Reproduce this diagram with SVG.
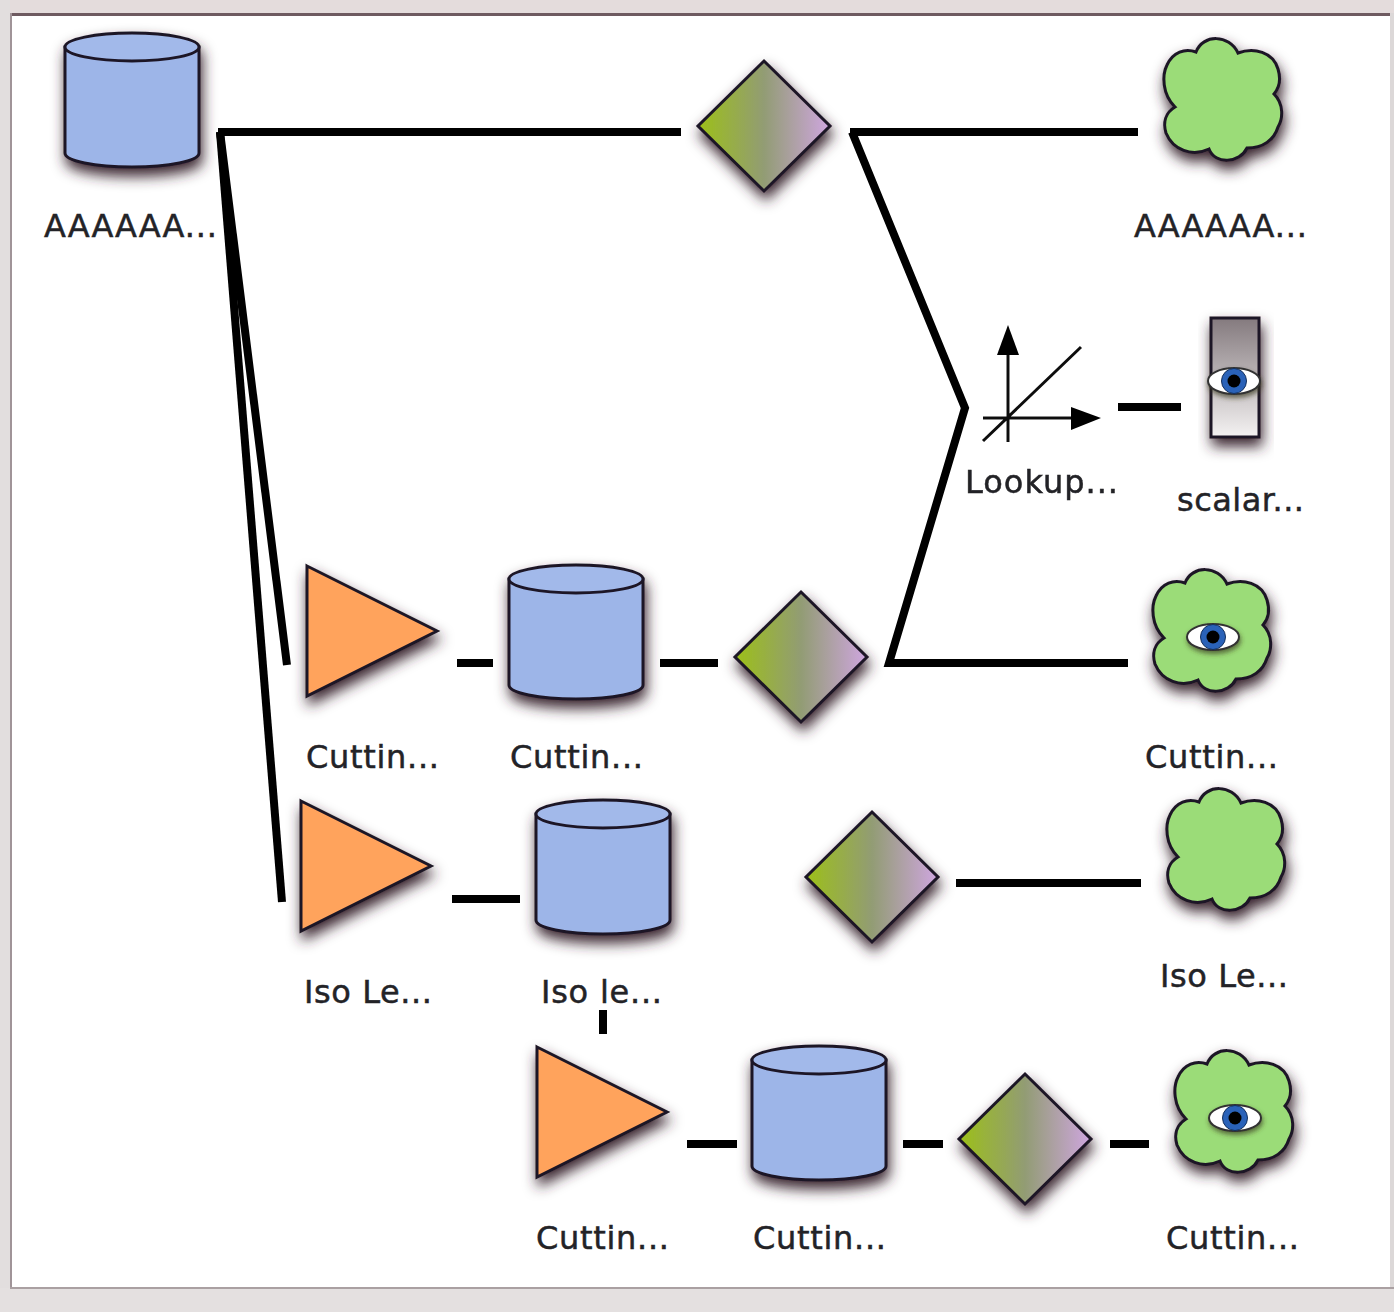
<svg xmlns="http://www.w3.org/2000/svg" width="1394" height="1312" viewBox="0 0 1394 1312">
<style>
text{font-family:"DejaVu Sans","Liberation Sans",sans-serif;font-size:32px;fill:#232327;stroke:#232327;stroke-width:0.5}
.c{fill:none;stroke:#000;stroke-width:8;stroke-linejoin:miter}
.o{stroke:#1e1626;stroke-width:3}
</style>
<defs>
<filter id="soft" filterUnits="userSpaceOnUse" x="0" y="0" width="1394" height="1312"><feGaussianBlur stdDeviation="0.7"/></filter>
<filter id="eyef" x="-30%" y="-50%" width="160%" height="220%">
<feGaussianBlur in="SourceAlpha" stdDeviation="2.500" result="b"/>
<feOffset in="b" dx="1" dy="3" result="o"/>
<feFlood flood-color="#3a3a20" flood-opacity="0.7"/>
<feComposite in2="o" operator="in" result="s"/>
<feGaussianBlur in="SourceGraphic" stdDeviation="0.7" result="g"/>
<feMerge><feMergeNode in="s"/><feMergeNode in="g"/></feMerge>
</filter>
<filter id="shadow" x="-30%" y="-30%" width="160%" height="160%">
<feGaussianBlur in="SourceAlpha" stdDeviation="7" result="b"/>
<feOffset in="b" dx="2" dy="8" result="o"/>
<feFlood flood-color="#3a2630" flood-opacity="1"/>
<feComposite in2="o" operator="in" result="s"/>
<feGaussianBlur in="SourceGraphic" stdDeviation="0.7" result="g"/>
<feMerge><feMergeNode in="s"/><feMergeNode in="g"/></feMerge>
</filter>
<linearGradient id="dg" x1="0" x2="1" y1="0" y2="0"><stop offset="0" stop-color="#9cc018"/><stop offset="0.5" stop-color="#929c74"/><stop offset="1" stop-color="#cfa6e0"/></linearGradient>
<linearGradient id="sg" x1="0" x2="0" y1="0" y2="1"><stop offset="0" stop-color="#847a7e"/><stop offset="1" stop-color="#f4f2f2"/></linearGradient>
<g id="cyl" filter="url(#shadow)"><path class="o" fill="#9db5e8" d="M0 14V120C0 128 30 134 67 134S134 128 134 120V14Z"/><ellipse class="o" cx="67" cy="14" rx="67" ry="14" fill="#a2b9ea"/></g>
<polygon id="tri" filter="url(#shadow)" class="o" fill="#ffa35c" points="0,0 130,65 0,130"/>
<polygon id="dia" filter="url(#shadow)" class="o" fill="url(#dg)" points="0,-65 66,0 0,65 -66,0"/>
<path id="cloud" filter="url(#shadow)" class="o" fill="#9bdc78" d="M-25 -48C-18 -66 8 -66 17 -47C33 -53 52 -48 57 -31C60 -21 59 -13 53 -6C63 4 62 19 57 27C53 40 42 48 26 48C19 63 -6 65 -12 49C-29 57 -48 50 -55 33C-58 23 -56 13 -46 7C-59 -6 -59 -25 -54 -35C-48 -48 -36 -52 -25 -48Z"/>
<g id="eye" filter="url(#eyef)"><ellipse cx="0" cy="0" rx="26" ry="13" fill="#fff" stroke="#333" stroke-width="2"/><circle r="12.500" fill="#2a62b8" stroke="#14305c" stroke-width="1"/><circle r="6.500" fill="#000"/></g>
</defs>
<rect width="1394" height="1312" fill="#fff"/>
<g id="frame">
<rect x="0" y="0" width="1394" height="13" fill="#e4dcdc"/>
<rect x="0" y="0" width="10" height="1312" fill="#e2dede"/>
<rect x="10" y="13" width="1384" height="3" fill="#6e5a60"/>
<rect x="10" y="13" width="2" height="1275" fill="#a09498"/>
<rect x="1390" y="13" width="4" height="1280" fill="#dcd8d8"/>
<rect x="0" y="1288" width="1394" height="24" fill="#e4e0e0"/>
<rect x="10" y="1287" width="1384" height="2" fill="#aaa0a2"/>
</g>
<g id="connectors" filter="url(#soft)">
<path class="c" d="M218 132H681"/>
<path class="c" d="M220 132L287 665"/>
<path class="c" d="M220 132L282 902"/>
<path class="c" d="M850 132H1138"/>
<path class="c" d="M852 132L965 408L889 663H1128"/>
<path class="c" d="M457 663H493"/>
<path class="c" d="M660 663H718"/>
<path class="c" d="M452 899H520"/>
<path class="c" d="M956 883H1141"/>
<path class="c" d="M603 1010V1034"/>
<path class="c" d="M687 1144H737"/>
<path class="c" d="M903 1144H943"/>
<path class="c" d="M1110 1144H1149"/>
<path class="c" d="M1118 407H1181"/>
</g>
<g id="n1"><use href="#cyl" x="65" y="33"/><text x="44" y="237" textLength="173">AAAAAA...</text></g>
<g id="n2"><use href="#dia" x="764" y="126"/></g>
<g id="n3"><use href="#cloud" x="1221" y="100"/><text x="1134" y="237" textLength="173">AAAAAA...</text></g>
<g id="n4" filter="url(#soft)">
<path d="M1008 442V345M983 441L1081 347M983 418H1075" stroke="#111" stroke-width="3" fill="none"/>
<polygon points="1008,325 1019,355 997,355" fill="#000"/><polygon points="1101,418 1071,407 1071,430" fill="#000"/>
<text x="965" y="493" textLength="153">Lookup...</text></g>
<g id="n5"><rect x="1211" y="318" width="48" height="119" fill="url(#sg)" class="o" filter="url(#shadow)"/><use href="#eye" x="1234" y="381"/><text x="1177" y="511" textLength="127">scalar...</text></g>
<g id="n6"><use href="#tri" x="307" y="566"/><text x="306" y="768" textLength="133">Cuttin...</text></g>
<g id="n7"><use href="#cyl" x="509" y="565"/><text x="510" y="768" textLength="133">Cuttin...</text></g>
<g id="n8"><use href="#dia" x="801" y="657"/></g>
<g id="n9"><use href="#cloud" x="1210" y="631"/><use href="#eye" x="1213" y="637"/><text x="1145" y="768" textLength="133">Cuttin...</text></g>
<g id="n10"><use href="#tri" x="301" y="801"/><text x="304" y="1003" textLength="128">Iso Le...</text></g>
<g id="n11"><use href="#cyl" x="536" y="800"/><text x="541" y="1003" textLength="121">Iso le...</text></g>
<g id="n12"><use href="#dia" x="872" y="877"/></g>
<g id="n13"><use href="#cloud" x="1224" y="850"/><text x="1160" y="987" textLength="128">Iso Le...</text></g>
<g id="n14"><use href="#tri" x="537" y="1047"/><text x="536" y="1249" textLength="133">Cuttin...</text></g>
<g id="n15"><use href="#cyl" x="752" y="1046"/><text x="753" y="1249" textLength="133">Cuttin...</text></g>
<g id="n16"><use href="#dia" x="1025" y="1139"/></g>
<g id="n17"><use href="#cloud" x="1232" y="1112"/><use href="#eye" x="1235" y="1118"/><text x="1166" y="1249" textLength="133">Cuttin...</text></g>
</svg>
